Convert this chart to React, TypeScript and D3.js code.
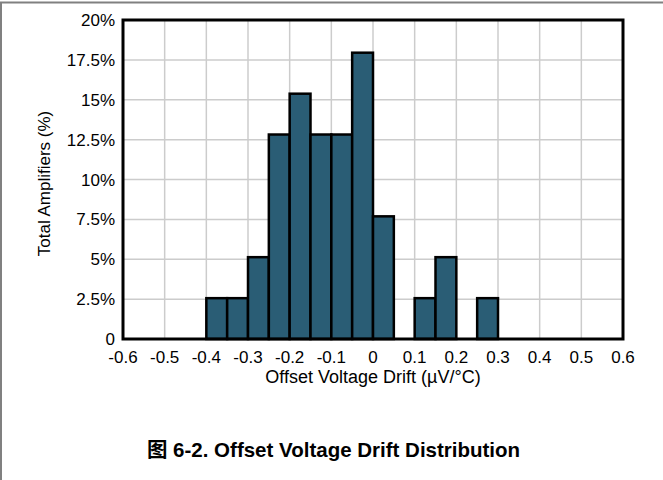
import React, { useEffect, useRef } from "react";
import * as d3 from "d3";

// histogram bins (uV/C) and percent of amplifiers (39 units)
const binStarts = [-0.4, -0.35, -0.3, -0.25, -0.2, -0.15, -0.1, -0.05, 0, 0.05, 0.1, 0.15, 0.2, 0.25];
const percents = [2.56, 2.56, 5.13, 12.82, 15.38, 12.82, 12.82, 17.95, 7.69, 0, 2.56, 5.13, 0, 2.56];
const binWidth = 0.05;
const xTicks = [-0.6, -0.5, -0.4, -0.3, -0.2, -0.1, 0, 0.1, 0.2, 0.3, 0.4, 0.5, 0.6];
const xTickLabels = ["-0.6", "-0.5", "-0.4", "-0.3", "-0.2", "-0.1", "0", "0.1", "0.2", "0.3", "0.4", "0.5", "0.6"];
const yTicks = [0, 2.5, 5, 7.5, 10, 12.5, 15, 17.5, 20];
const yTickLabels = ["0", "2.5%", "5%", "7.5%", "10%", "12.5%", "15%", "17.5%", "20%"];

const App: React.FC = () => {
  const svgRef = useRef<SVGSVGElement | null>(null);

  useEffect(() => {
    const width = 663;
    const height = 480;
    const margin = { top: 20, right: 40, bottom: 141, left: 123 };
    const font = "'Liberation Sans', Arial, sans-serif";

    const svg = d3.select(svgRef.current).attr("width", width).attr("height", height);
    svg.selectAll("*").remove();

    svg.append("rect").attr("width", width).attr("height", height).attr("fill", "#fff");

    // page frame (top and left only)
    svg.append("line").attr("x1", 0).attr("x2", width).attr("y1", 2.5).attr("y2", 2.5)
      .attr("stroke", "#808080").attr("stroke-width", 2);
    svg.append("line").attr("x1", 1).attr("x2", 1).attr("y1", 2).attr("y2", height)
      .attr("stroke", "#808080").attr("stroke-width", 2);

    const x = d3.scaleLinear().domain([-0.6, 0.6]).range([margin.left, width - margin.right]);
    const y = d3.scaleLinear().domain([0, 20]).range([height - margin.bottom, margin.top]);

    // grid
    const grid = svg.append("g");
    grid.selectAll(".vg").data(xTicks).enter().append("line")
      .attr("x1", (d) => x(d)).attr("x2", (d) => x(d))
      .attr("y1", y(0)).attr("y2", y(20))
      .attr("stroke", "#cccccc").attr("stroke-width", 1.5);
    grid.selectAll(".hg").data(yTicks).enter().append("line")
      .attr("x1", x(-0.6)).attr("x2", x(0.6))
      .attr("y1", (d) => y(d)).attr("y2", (d) => y(d))
      .attr("stroke", "#cccccc").attr("stroke-width", 1.5);

    // bars
    const data = binStarts.map((b, i) => ({ b, v: percents[i] })).filter((d) => d.v > 0);
    svg.append("g").selectAll("rect").data(data).enter().append("rect")
      .attr("x", (d) => x(d.b))
      .attr("width", (d) => x(d.b + binWidth) - x(d.b))
      .attr("y", (d) => y(d.v))
      .attr("height", (d) => y(0) - y(d.v))
      .attr("fill", "#2a5d75")
      .attr("stroke", "#000")
      .attr("stroke-width", 2.5);

    // frame
    svg.append("rect")
      .attr("x", x(-0.6)).attr("y", y(20))
      .attr("width", x(0.6) - x(-0.6)).attr("height", y(0) - y(20))
      .attr("fill", "none").attr("stroke", "#000").attr("stroke-width", 3);

    // tick labels
    svg.append("g").selectAll("text").data(xTicks).enter().append("text")
      .attr("x", (d) => x(d)).attr("y", y(0) + 24)
      .attr("text-anchor", "middle")
      .attr("font-family", font).attr("font-size", 17).attr("fill", "#000")
      .text((d, i) => xTickLabels[i]);
    svg.append("g").selectAll("text").data(yTicks).enter().append("text")
      .attr("x", x(-0.6) - 8).attr("y", (d) => y(d) + 6)
      .attr("text-anchor", "end")
      .attr("font-family", font).attr("font-size", 17).attr("fill", "#000")
      .text((d, i) => yTickLabels[i]);

    // axis titles
    svg.append("text")
      .attr("x", (x(-0.6) + x(0.6)) / 2).attr("y", y(0) + 44)
      .attr("text-anchor", "middle")
      .attr("font-family", font).attr("font-size", 18).attr("fill", "#000")
      .text("Offset Voltage Drift (\u00b5V/\u00b0C)");
    svg.append("text")
      .attr("transform", `translate(50, ${(y(0) + y(20)) / 2 + 4}) rotate(-90)`)
      .attr("text-anchor", "middle")
      .attr("font-family", font).attr("font-size", 17).attr("fill", "#000")
      .text("Total Amplifiers (%)");

    // caption
    svg.append("text")
      .attr("x", 333.5).attr("y", 457)
      .attr("text-anchor", "middle")
      .attr("font-family", "'Liberation Sans', 'Noto Sans CJK SC', Arial, sans-serif")
      .attr("font-weight", "bold").attr("font-size", 20.5).attr("fill", "#000")
      .text("图 6-2. Offset Voltage Drift Distribution");
  }, []);

  return (
    <div style={{ position: "fixed", left: 0, top: 0 }}>
      <svg ref={svgRef}></svg>
    </div>
  );
};

export default App;
